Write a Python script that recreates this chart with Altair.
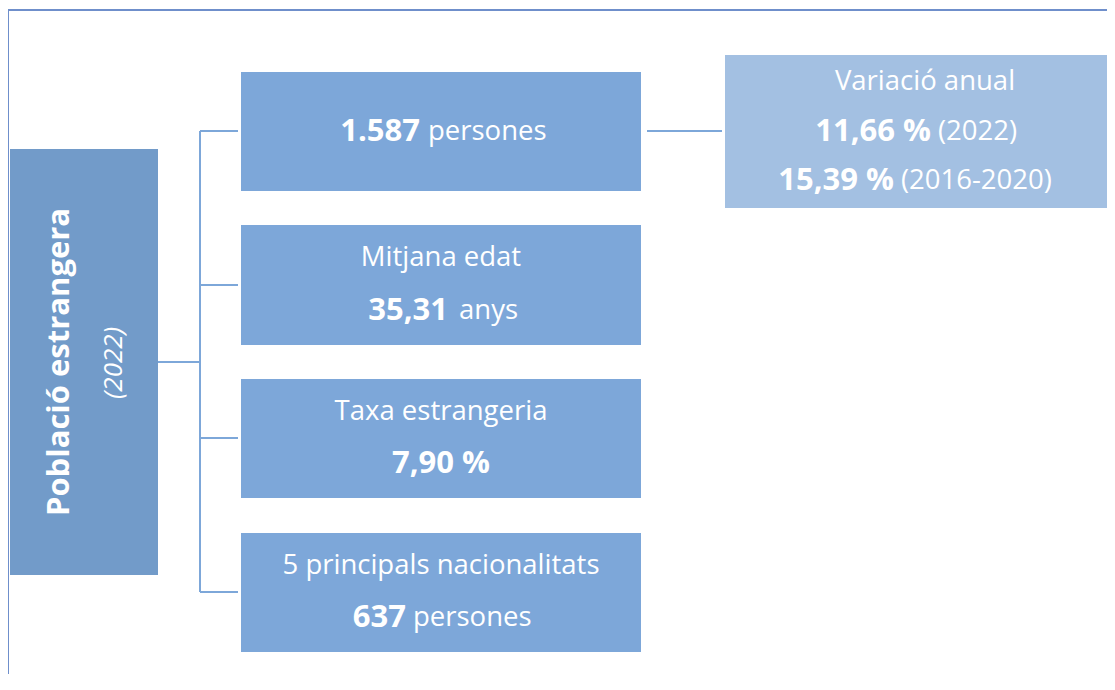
import altair as alt
import pandas as pd

# ---- content (values / labels) ----
title_main = ["Població estrangera"]
title_sub = ["(2022)"]
center_labels = ["Mitjana edat", "Taxa estrangeria", "5 principals nacionalitats", "Variació anual"]
bold_values = ["1.587", "35,31", "7,90 %", "637", "11,66 %", "15,39 %"]
regular_units = ["persones", "anys", "", "persones", "(2022)", "(2016-2020)"]

# ---- layout (screen pixel coordinates) ----
W, H = 1099, 666
X0, Y0 = 8, 8

boxes = pd.DataFrame({
    "x": [10, 241, 241, 241, 241, 725],
    "x2": [158, 641, 641, 641, 641, 1130],
    "y": [149, 72, 225, 379, 533, 55],
    "y2": [575, 191, 345, 498, 652, 208],
    "c": ["#729BC9", "#7DA7D9", "#7DA7D9", "#7DA7D9", "#7DA7D9", "#A3C0E2"],
})

lines = pd.DataFrame({
    "x": [158, 200, 200, 200, 200, 200, 647],
    "x2": [200, 200, 238, 238, 238, 238, 722],
    "y": [362, 131, 131, 285, 438, 592, 131],
    "y2": [362, 592, 131, 285, 438, 592, 131],
})

center_df = pd.DataFrame({"t": center_labels, "x": [441, 441, 441, 925], "y": [258, 412, 566, 82]})
bold_center_df = pd.DataFrame({"t": ["7,90 %"], "x": [441], "y": [464]})
split_rows = [0, 1, 3, 4, 5]
bold_right_df = pd.DataFrame({
    "t": [bold_values[i] for i in split_rows],
    "x": [420, 448, 406, 931, 894],
    "y": [132, 311, 618, 132, 181],
})
reg_left_df = pd.DataFrame({
    "t": [regular_units[i] for i in split_rows],
    "x": [428, 459, 413, 938, 901],
    "y": [132, 311, 618, 132, 181],
})
rot_main_df = pd.DataFrame({"t": title_main, "x": [60], "y": [362]})
rot_sub_df = pd.DataFrame({"t": title_sub, "x": [114], "y": [363]})
frame_df = pd.DataFrame({"x": [8], "x2": [1200], "y": [10], "y2": [800]})

xs = alt.Scale(domain=[X0, X0 + W], range=[0, W])
ys = alt.Scale(domain=[Y0, Y0 + H], range=[0, H])
def X(f="x"): return alt.X(f"{f}:Q", scale=xs, axis=None)
def Y(f="y"): return alt.Y(f"{f}:Q", scale=ys, axis=None)

FONT = "Open Sans"
REG, BOLD = 27.5, 31

frame = alt.Chart(frame_df).mark_rect(fill=None, stroke="#6F8FCB", strokeWidth=2).encode(
    x=X(), x2="x2:Q", y=Y(), y2="y2:Q")
rects = alt.Chart(boxes).mark_rect().encode(
    x=X(), x2="x2:Q", y=Y(), y2="y2:Q", color=alt.Color("c:N", scale=None))
rules = alt.Chart(lines).mark_rule(color="#7DA7D9", strokeWidth=2).encode(
    x=X(), x2="x2:Q", y=Y(), y2="y2:Q")

t_center = alt.Chart(center_df).mark_text(font=FONT, fontSize=REG, color="white", align="center", baseline="middle").encode(
    x=X(), y=Y(), text="t:N")
t_bold_center = alt.Chart(bold_center_df).mark_text(font=FONT, fontSize=BOLD, fontWeight="bold", color="white", align="center", baseline="middle").encode(
    x=X(), y=Y(), text="t:N")
t_bold_right = alt.Chart(bold_right_df).mark_text(font=FONT, fontSize=BOLD, fontWeight="bold", color="white", align="right", baseline="middle").encode(
    x=X(), y=Y(), text="t:N")
t_reg_left = alt.Chart(reg_left_df).mark_text(font=FONT, fontSize=REG, color="white", align="left", baseline="middle").encode(
    x=X(), y=Y(), text="t:N")
t_rot_main = alt.Chart(rot_main_df).mark_text(font=FONT, fontSize=31, fontWeight="bold", color="white", align="center", baseline="middle", angle=270).encode(
    x=X(), y=Y(), text="t:N")
t_rot_sub = alt.Chart(rot_sub_df).mark_text(font=FONT, fontSize=26, fontStyle="italic", color="white", align="center", baseline="middle", angle=270).encode(
    x=X(), y=Y(), text="t:N")

chart = alt.layer(frame, rects, rules, t_center, t_bold_center, t_bold_right, t_reg_left, t_rot_main, t_rot_sub).properties(
    width=W, height=H, padding=0, autosize=alt.AutoSizeParams(type="none")
).configure_view(stroke=None)

chart.save("out.html", embed_options={"renderer": "svg", "actions": False})
